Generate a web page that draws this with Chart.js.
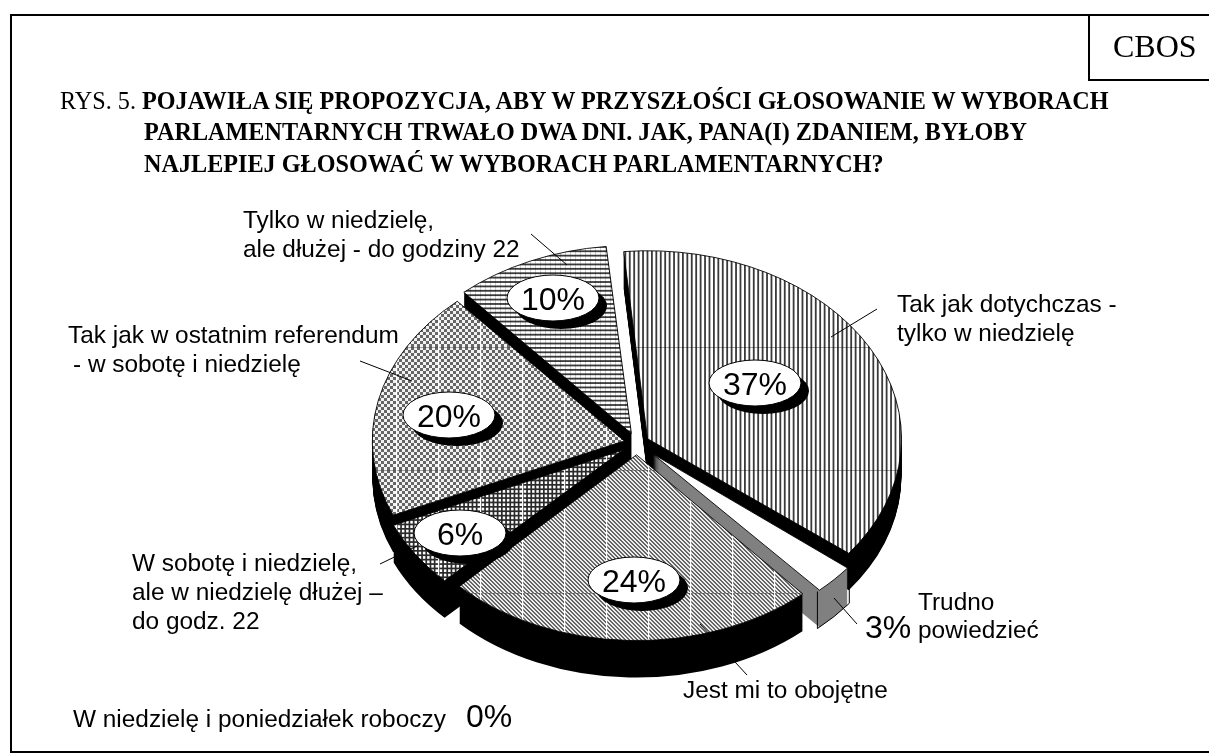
<!DOCTYPE html>
<html lang="pl">
<head>
<meta charset="utf-8">
<title>CBOS RYS. 5</title>
<script src="https://cdn.jsdelivr.net/npm/chart.js@4/dist/chart.umd.min.js"></script>
<style>
html,body{margin:0;padding:0;background:#fff;overflow:hidden}
#page{position:relative;width:1209px;height:753px;overflow:hidden;background:#fff}
canvas{position:absolute;left:0;top:0}
.rule{position:absolute;background:#000}
.t{position:absolute;font-family:"Liberation Serif",serif;font-size:24.2px;line-height:22px;color:#000;white-space:nowrap}
.t b{font-weight:bold}
</style>
</head>
<body>
<div id="page">
<canvas id="c" width="1209" height="753"></canvas>
<div class="rule" style="left:10px;top:14px;width:1199px;height:2px"></div>
<div class="rule" style="left:10px;top:14px;width:2px;height:739px"></div>
<div class="rule" style="left:10px;top:751px;width:1199px;height:2px"></div>
<div class="rule" style="left:1088px;top:14px;width:2px;height:67px"></div>
<div class="rule" style="left:1088px;top:79px;width:121px;height:2px"></div>
<div class="t" style="left:1113px;top:31px;font-size:32px;line-height:30px">CBOS</div>
<div class="t" style="left:60px;top:89.5px">RYS. 5. <b>POJAWIŁA SIĘ PROPOZYCJA, ABY W PRZYSZŁOŚCI GŁOSOWANIE W WYBORACH</b></div>
<div class="t" style="left:144px;top:120.5px"><b>PARLAMENTARNYCH TRWAŁO DWA DNI. JAK, PANA(I) ZDANIEM, BYŁOBY</b></div>
<div class="t" style="left:144px;top:153px"><b>NAJLEPIEJ GŁOSOWAĆ W WYBORACH PARLAMENTARNYCH?</b></div>
</div>
<script>
// ---- data ----
const categories = [
  "Tak jak dotychczas - tylko w niedzielę",
  "Trudno powiedzieć",
  "Jest mi to obojętne",
  "W sobotę i niedzielę, ale w niedzielę dłużej – do godz. 22",
  "Tak jak w ostatnim referendum - w sobotę i niedzielę",
  "Tylko w niedzielę, ale dłużej - do godziny 22",
  "W niedzielę i poniedziałek roboczy"
];
const values = [37, 3, 24, 6, 20, 10, 0];
const explode = [12, 22, 16, 17, 13, 14, 0];
const sliceRadius = [254, 248, 251, 251, 252, 254, 251];

// ---- style ----
const ASPECT = 0.74, DEPTH = 37, RADIUS = 251, CX = 637, CY = 443, OFFSET_DIV = 4;

function tile(w, h, paint) {
  const c = document.createElement('canvas');
  c.width = w; c.height = h;
  paint(c.getContext('2d'), w, h);
  return c;
}
function seamV(g, h) { g.fillStyle = '#fff'; g.fillRect(0, 0, 1.2, h); }
function seamH(g, w, col) { g.fillStyle = col; g.fillRect(0, 0, w, 1); }

const tiles = [
  // vertical stripes
  tile(62, 123, (g, w, h) => {
    g.fillStyle = '#fff'; g.fillRect(0, 0, w, h);
    g.fillStyle = '#3a3a3a';
    for (let i = 0; i < 14; i++) g.fillRect(i * w / 14, 0, 1.8, h);
    g.fillStyle = 'rgba(0,0,0,.35)'; g.fillRect(0, 0, w, 1);
  }),
  null,
  // fine diagonal
  tile(42, 123, (g, w, h) => {
    for (let y = 0; y < h; y++) for (let x = 0; x < w; x++) {
      const m = ((x - y) % 4 + 4) % 4;
      g.fillStyle = m < 2 ? '#666' : '#ececec';
      g.fillRect(x, y, 1, 1);
    }
    seamH(g, w, 'rgba(60,60,60,.45)');
    seamV(g, h);
  }),
  // crosshatch
  tile(42, 44, (g, w, h) => {
    g.fillStyle = '#fff'; g.fillRect(0, 0, w, h);
    g.fillStyle = '#2a2a2a';
    for (let i = 0; i < 10; i++) {
      g.fillRect(i * w / 10, 0, 1.7, h);
      g.fillRect(0, i * h / 10, w, 1.7);
    }
    seamV(g, h);
  }),
  // coarse checker
  tile(42, 123, (g, w, h) => {
    for (let y = 0; y < h; y++) for (let x = 0; x < w; x++) {
      const m = (Math.floor(x / 3) + Math.floor(y / 3)) % 2;
      g.fillStyle = m ? '#666' : '#f2f2f2';
      g.fillRect(x, y, 1, 1);
    }
    seamH(g, w, 'rgba(60,60,60,.45)');
    seamV(g, h);
  }),
  // horizontal stripes
  tile(5, 123, (g, w, h) => {
    g.fillStyle = '#fff'; g.fillRect(0, 0, w, h);
    g.fillStyle = '#3a3a3a';
    for (let i = 0; i < 28; i++) g.fillRect(0, i * h / 28, w, 1.8);
    g.fillStyle = 'rgba(0,0,0,.18)'; g.fillRect(0, 0, 1, h);
  }),
  null
];
const scratch = document.getElementById('c').getContext('2d');
const patterns = tiles.map(t => t ? scratch.createPattern(t, 'repeat') : null);
const fills = patterns.map((p, i) => p || (i === 1 ? '#ffffff' : '#000000'));
const phases = [[0, 101], null, [18, 101], [18, 0], [18, 101], [0, 101], null];

const wallOrder = [5, 4, 0, 3, 1, 2];
const wallOf = i => (i === 1 ? '#808080' : '#000000');
const leaderLines = [
  [877, 309, 831, 337], [531, 234, 567, 265], [360, 361, 412, 381],
  [380, 564, 417, 546], [747, 675, 700, 624], [857, 624, 834, 598]
];
const valueBubbles = [[755, 383], null, [634, 580], [460, 533], [449, 415], [553, 298], null];
const plainLabels = [
  ["Tylko w niedzielę,", 243, 228], ["ale dłużej - do godziny 22", 243, 257],
  ["Tak jak w ostatnim referendum", 68, 343], ["- w sobotę i niedzielę", 73, 372],
  ["Tak jak dotychczas -", 897, 312], ["tylko w niedzielę", 897, 341],
  ["W sobotę i niedzielę,", 132, 571], ["ale w niedzielę dłużej –", 132, 600], ["do godz. 22", 132, 629],
  ["Trudno", 918, 610], ["powiedzieć", 918, 638],
  ["Jest mi to obojętne", 683, 698],
  ["W niedzielę i poniedziałek roboczy", 73, 727]
];
const looseValues = [["3%", 865, 638, 1], ["0%", 466, 727, 6]];

function squash(ctx) {
  ctx.translate(CX, CY); ctx.scale(1, ASPECT); ctx.translate(-CX, -CY);
}
function offsetOf(arc, i) {
  const mid = (arc.startAngle + arc.endAngle) / 2, d = explode[i];
  return [Math.cos(mid) * d, Math.sin(mid) * d];
}
const pie3d = {
  id: 'pie3d',
  beforeDatasetDraw(chart, args) {
    const ctx = chart.ctx, arcs = args.meta.data;
    // the arc element widens narrow exploded slices; hold each at its own radius
    arcs.forEach((arc, i) => {
      const fix = 1 - Math.sin(Math.min(Math.PI, arc.circumference || 0));
      arc.outerRadius = sliceRadius[i] - explode[i] * fix;
    });
    // side walls: same arcs, repainted lower
    wallOrder.forEach(i => {
      const arc = arcs[i], keep = arc.options;
      arc.options = {backgroundColor: wallOf(i), borderColor: wallOf(i), borderWidth: 0, borderAlign: 'center',
        offset: explode[i] * OFFSET_DIV, spacing: 0, borderRadius: 0, circular: true, borderDash: [],
        borderDashOffset: 0, borderJoinStyle: 'round'};
      for (let k = DEPTH; k > 0; k--) {
        ctx.save(); ctx.translate(0, k); squash(ctx); arc.draw(ctx); ctx.restore();
      }
      arc.options = keep;
      if (i === 1) {
        const [ox, oy] = offsetOf(arc, i), r = sliceRadius[i];
        ctx.save();
        ctx.strokeStyle = '#000'; ctx.lineWidth = 1;
        ctx.save(); ctx.translate(0, DEPTH); squash(ctx);
        ctx.beginPath(); ctx.arc(arc.x + ox, arc.y + oy, r, arc.startAngle, arc.endAngle);
        ctx.restore(); ctx.stroke();
        [arc.startAngle, arc.endAngle].forEach(a => {
          const x = arc.x + ox + Math.cos(a) * r;
          const y = CY + (arc.y - CY + oy + Math.sin(a) * r) * ASPECT;
          ctx.beginPath(); ctx.moveTo(x, y); ctx.lineTo(x, y + DEPTH); ctx.stroke();
        });
        ctx.restore();
      }
    });
    // top faces: keep the hatch square and fixed on the page
    ctx.save();
    squash(ctx);
    const base = ctx.getTransform();
    arcs.forEach((arc, i) => {
      if (!patterns[i]) return;
      const [ox, oy] = offsetOf(arc, i);
      patterns[i].setTransform(new DOMMatrix().translate(-ox, -oy)
        .multiply(base.inverse()).translate(phases[i][0], phases[i][1]));
    });
  },
  afterDatasetDraw(chart) {
    const ctx = chart.ctx;
    ctx.restore();
    ctx.save();
    ctx.strokeStyle = '#000'; ctx.lineWidth = 1;
    leaderLines.forEach(l => { ctx.beginPath(); ctx.moveTo(l[0], l[1]); ctx.lineTo(l[2], l[3]); ctx.stroke(); });
    ctx.fillStyle = '#000'; ctx.textBaseline = 'alphabetic'; ctx.textAlign = 'left';
    ctx.font = '24.4px "Liberation Sans", Arial, sans-serif';
    plainLabels.forEach(l => ctx.fillText(l[0], l[1], l[2]));
    ctx.font = '32px "Liberation Sans", Arial, sans-serif';
    looseValues.forEach(l => ctx.fillText(l[0], l[1], l[2]));
    values.forEach((v, i) => {
      const b = valueBubbles[i];
      if (!b) return;
      ctx.fillStyle = '#000';
      ctx.beginPath(); ctx.ellipse(b[0] + 8, b[1] + 8, 46, 23, 0, 0, Math.PI * 2); ctx.fill();
      ctx.fillStyle = '#fff'; ctx.strokeStyle = '#000';
      ctx.beginPath(); ctx.ellipse(b[0], b[1], 46, 23, 0, 0, Math.PI * 2); ctx.fill(); ctx.stroke();
      ctx.fillStyle = '#000'; ctx.textAlign = 'center';
      ctx.fillText(v + '%', b[0], b[1] + 12);
    });
    ctx.restore();
  }
};

new Chart(document.getElementById('c'), {
  type: 'pie',
  data: {
    labels: categories,
    datasets: [{
      data: values,
      backgroundColor: fills,
      borderColor: '#000',
      borderWidth: 1,
      borderAlign: 'center',
      offset: explode.map(d => d * OFFSET_DIV),
      clip: false
    }]
  },
  options: {
    responsive: false,
    animation: false,
    rotation: -5.5,
    radius: RADIUS,
    layout: {padding: {left: CX * 2 - 1209, top: CY * 2 - 753}},
    plugins: {legend: {display: false}, tooltip: {enabled: false}, title: {display: false}}
  },
  plugins: [pie3d]
});
</script>
</body>
</html>
